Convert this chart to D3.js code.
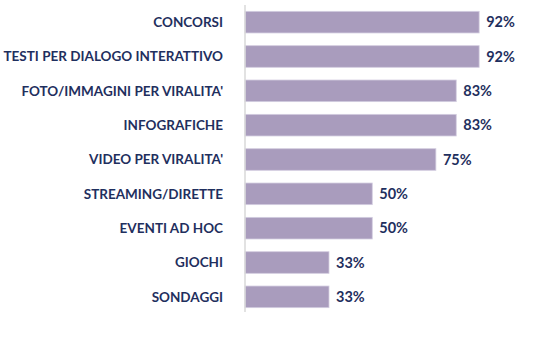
<!DOCTYPE html>
<html><head><meta charset="utf-8">
<script src="https://cdn.jsdelivr.net/npm/d3@7/dist/d3.min.js"></script>
<style>html,body{margin:0;padding:0;background:#fff;}</style>
</head><body>
<svg id="c" width="539" height="348"></svg>
<script>
const categories = ["CONCORSI","TESTI PER DIALOGO INTERATTIVO","FOTO/IMMAGINI PER VIRALITA'","INFOGRAFICHE","VIDEO PER VIRALITA'","STREAMING/DIRETTE","EVENTI AD HOC","GIOCHI","SONDAGGI"];
const values = [92,92,83,83,75,50,50,33,33];
const valueLabels = ["92%","92%","83%","83%","75%","50%","50%","33%","33%"];

const svg = d3.select("#c");
const x = d3.scaleLinear().domain([0,100]).range([245,499.5]);
const y = d3.scaleBand().domain(categories).range([5.5,313.5]).paddingInner(0.37).paddingOuter(0.17);
const font = "Lato, 'Open Sans', sans-serif";
const textColor = "#1f2f5e";

svg.selectAll("rect.bar").data(categories).join("rect")
  .attr("class","bar")
  .attr("x", x(0))
  .attr("y", d => y(d))
  .attr("width", (d,i) => x(values[i]) - x(0))
  .attr("height", y.bandwidth())
  .attr("fill","#a99cbd")
  .attr("stroke","#d3cde0")
  .attr("stroke-width",0.8);

svg.append("line")
  .attr("x1", x(0)).attr("x2", x(0))
  .attr("y1", 5).attr("y2", 312)
  .attr("stroke","#d9d9d9").attr("stroke-width",1.5);

svg.selectAll("text.cat").data(categories).join("text")
  .attr("class","cat")
  .attr("x", 223)
  .attr("y", d => y(d) + y.bandwidth()/2)
  .attr("dy","0.36em")
  .attr("text-anchor","end")
  .attr("font-family", font)
  .attr("font-weight","bold")
  .attr("font-size", 13.5)
  .attr("fill", textColor)
  .text(d => d);

svg.selectAll("text.val").data(categories).join("text")
  .attr("class","val")
  .attr("x", (d,i) => x(values[i]) + 7)
  .attr("y", d => y(d) + y.bandwidth()/2)
  .attr("dy","0.36em")
  .attr("font-family", font)
  .attr("font-weight","bold")
  .attr("font-size", 14.5)
  .attr("fill", textColor)
  .text((d,i) => valueLabels[i]);
</script>
</body></html>
